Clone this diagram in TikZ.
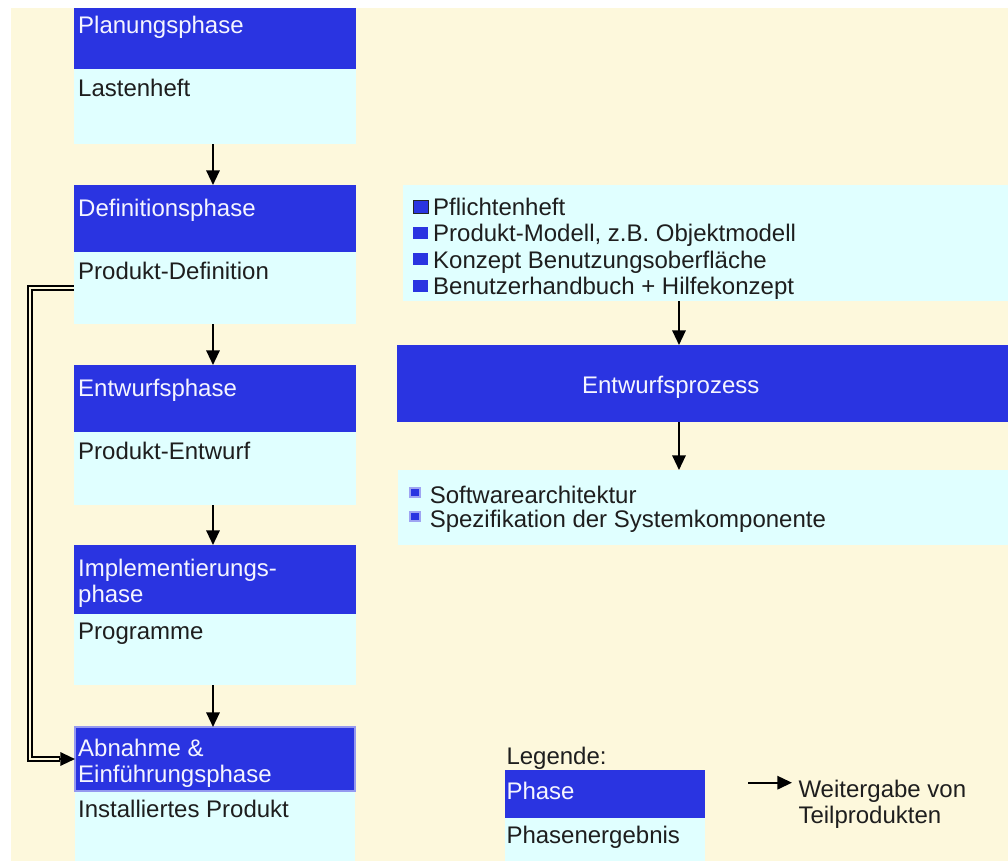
\documentclass[tikz,border=0pt]{standalone}
\usepackage{fontspec}
\setmainfont{Liberation Sans}
\usetikzlibrary{arrows.meta}

\definecolor{cream}{RGB}{253,248,220}
\definecolor{phaseblue}{RGB}{42,52,225}
\definecolor{lightcyan}{RGB}{224,255,255}
\definecolor{inktext}{RGB}{30,30,30}
\definecolor{paletext}{RGB}{245,245,255}

\tikzset{
  boxsize/.style 2 args={minimum width=#1*0.75pt, minimum height=#2*0.75pt},
  box/.style={rectangle, inner sep=0pt, outer sep=0pt, anchor=north west},
  phasebox/.style={box, fill=phaseblue},
  resultbox/.style={box, fill=lightcyan},
  txt/.style={anchor=base west, inner sep=0pt, outer sep=0pt,
              font=\fontsize{18}{19.5}\selectfont},
  headtxt/.style={txt, text=paletext},
  bodytxt/.style={txt, text=inktext},
  bulletsq/.style={box, fill=phaseblue},
  flow/.style={draw=black, line width=1.6pt, -{Triangle[length=11pt,width=10pt]}},
  feedback/.style={draw=black, line width=1.4pt, double=cream, double distance=1.5pt},
}

\begin{document}
\begin{tikzpicture}[x=0.75pt, y=-0.75pt]
  \useasboundingbox (0,0) rectangle (1008,861);
  \fill[white] (0,0) rectangle (1008,861);

  \begin{scope}
    \clip (11,8) rectangle (1008,861);
    \fill[cream] (11,8) rectangle (1008,861);

    % phase column
    \node[phasebox,  boxsize={282}{67}] (plan)   at (74,2)   {};
    \node[resultbox, boxsize={282}{75}] (lasten) at (74,69)  {};
    \node[phasebox,  boxsize={282}{67}] (def)    at (74,185) {};
    \node[resultbox, boxsize={282}{72}] (pdef)   at (74,252) {};
    \node[phasebox,  boxsize={282}{67}] (entw)   at (74,365) {};
    \node[resultbox, boxsize={282}{73}] (pentw)  at (74,432) {};
    \node[phasebox,  boxsize={282}{69}] (impl)   at (74,545) {};
    \node[resultbox, boxsize={282}{71}] (prog)   at (74,614) {};
    \node[resultbox, boxsize={280}{75}] (inst)   at (75,792) {};
    \node[phasebox,  boxsize={280}{64}, draw=phaseblue!50!white, line width=1.5pt] (abn) at (75,727) {};

    \node[headtxt] (t-plan)   at (78.2,33.3)  {Planungsphase};
    \node[bodytxt] (t-lasten) at (78.2,96.7)  {Lastenheft};
    \node[headtxt] (t-def)    at (78.2,216.7) {Definitionsphase};
    \node[bodytxt] (t-pdef)   at (78.2,279.3) {Produkt-Definition};
    \node[headtxt] (t-entw)   at (78.2,396.5) {Entwurfsphase};
    \node[bodytxt] (t-pentw)  at (78.2,459)   {Produkt-Entwurf};
    \node[headtxt] (t-impl1)  at (78.2,576)   {Implementierungs-};
    \node[headtxt] (t-impl2)  at (78.2,602)   {phase};
    \node[bodytxt] (t-prog)   at (78.2,639.5) {Programme};
    \node[headtxt] (t-abn1)   at (78.2,756)   {Abnahme \&};
    \node[headtxt] (t-abn2)   at (78.2,782)   {Einführungsphase};
    \node[bodytxt] (t-inst)   at (78.2,817)   {Installiertes Produkt};

    \coordinate (spine) at (213,0);
    \draw[flow] (lasten.south -| spine) -- (def.north -| spine);
    \draw[flow] (pdef.south -| spine)   -- (entw.north -| spine);
    \draw[flow] (pentw.south -| spine)  -- (impl.north -| spine);
    \draw[flow] (prog.south -| spine)   -- (abn.north -| spine);

    % feedback line from the definition result to the acceptance phase
    \coordinate (loop) at (30,0);
    \draw[feedback, shorten >=11pt] (pdef.west) -- (pdef.west -| loop)
         -- (abn.west -| loop) -- (abn.west);
    \draw[flow] ([xshift=-12pt]abn.west) -- (abn.west);

    % design process
    \node[resultbox, boxsize={605}{116}] (pflicht) at (403,185) {};
    \node[phasebox,  boxsize={611}{77}]  (proz)    at (397,345) {};
    \node[resultbox, boxsize={610}{75}]  (arch)    at (398,470) {};

    \node[bulletsq, boxsize={15}{13}, draw=black!85, line width=0.75pt] (b1) at (413.5,200.5) {};
    \node[bulletsq, boxsize={15}{12}] (b2) at (413,226.5) {};
    \node[bulletsq, boxsize={15}{12}] (b3) at (413,253)   {};
    \node[bulletsq, boxsize={15}{12}] (b4) at (413,279.5) {};

    \node[bodytxt] (t-p1) at (433.2,215)   {Pflichtenheft};
    \node[bodytxt] (t-p2) at (433.2,241.7) {Produkt-Modell, z.B. Objektmodell};
    \node[bodytxt] (t-p3) at (433.2,268)   {Konzept Benutzungsoberfläche};
    \node[bodytxt] (t-p4) at (433.2,294.5) {Benutzerhandbuch + Hilfekonzept};

    \node[headtxt] (t-proz) at (582,393) {Entwurfsprozess};

    \node[bulletsq, boxsize={10}{9}, draw=phaseblue!45!white, line width=1.5pt] (c1) at (410,488) {};
    \node[bulletsq, boxsize={10}{9}, draw=phaseblue!45!white, line width=1.5pt] (c2) at (410,512) {};
    \node[bodytxt] (t-a1) at (429.8,503) {Softwarearchitektur};
    \node[bodytxt] (t-a2) at (429.8,527) {Spezifikation der Systemkomponente};

    \coordinate (pipe) at (679,0);
    \draw[flow] (pflicht.south -| pipe) -- (proz.north -| pipe);
    \draw[flow] (proz.south -| pipe)    -- (arch.north -| pipe);

    % legend
    \node[bodytxt] (t-leg) at (506.5,764) {Legende:};
    \node[phasebox,  boxsize={200}{48}] (legphase) at (505,770) {};
    \node[resultbox, boxsize={200}{45}] (legres)   at (505,818) {};
    \node[headtxt] (t-legphase) at (506.5,799) {Phase};
    \node[bodytxt] (t-legres)   at (506.5,843) {Phasenergebnis};

    \coordinate (legA) at (748,782.7);
    \coordinate (legB) at (792,782.7);
    \draw[flow] (legA) -- (legB);
    \node[bodytxt] (t-weiter1) at (798.5,797) {Weitergabe von};
    \node[bodytxt] (t-weiter2) at (798.5,823) {Teilprodukten};
  \end{scope}
\end{tikzpicture}
\end{document}
